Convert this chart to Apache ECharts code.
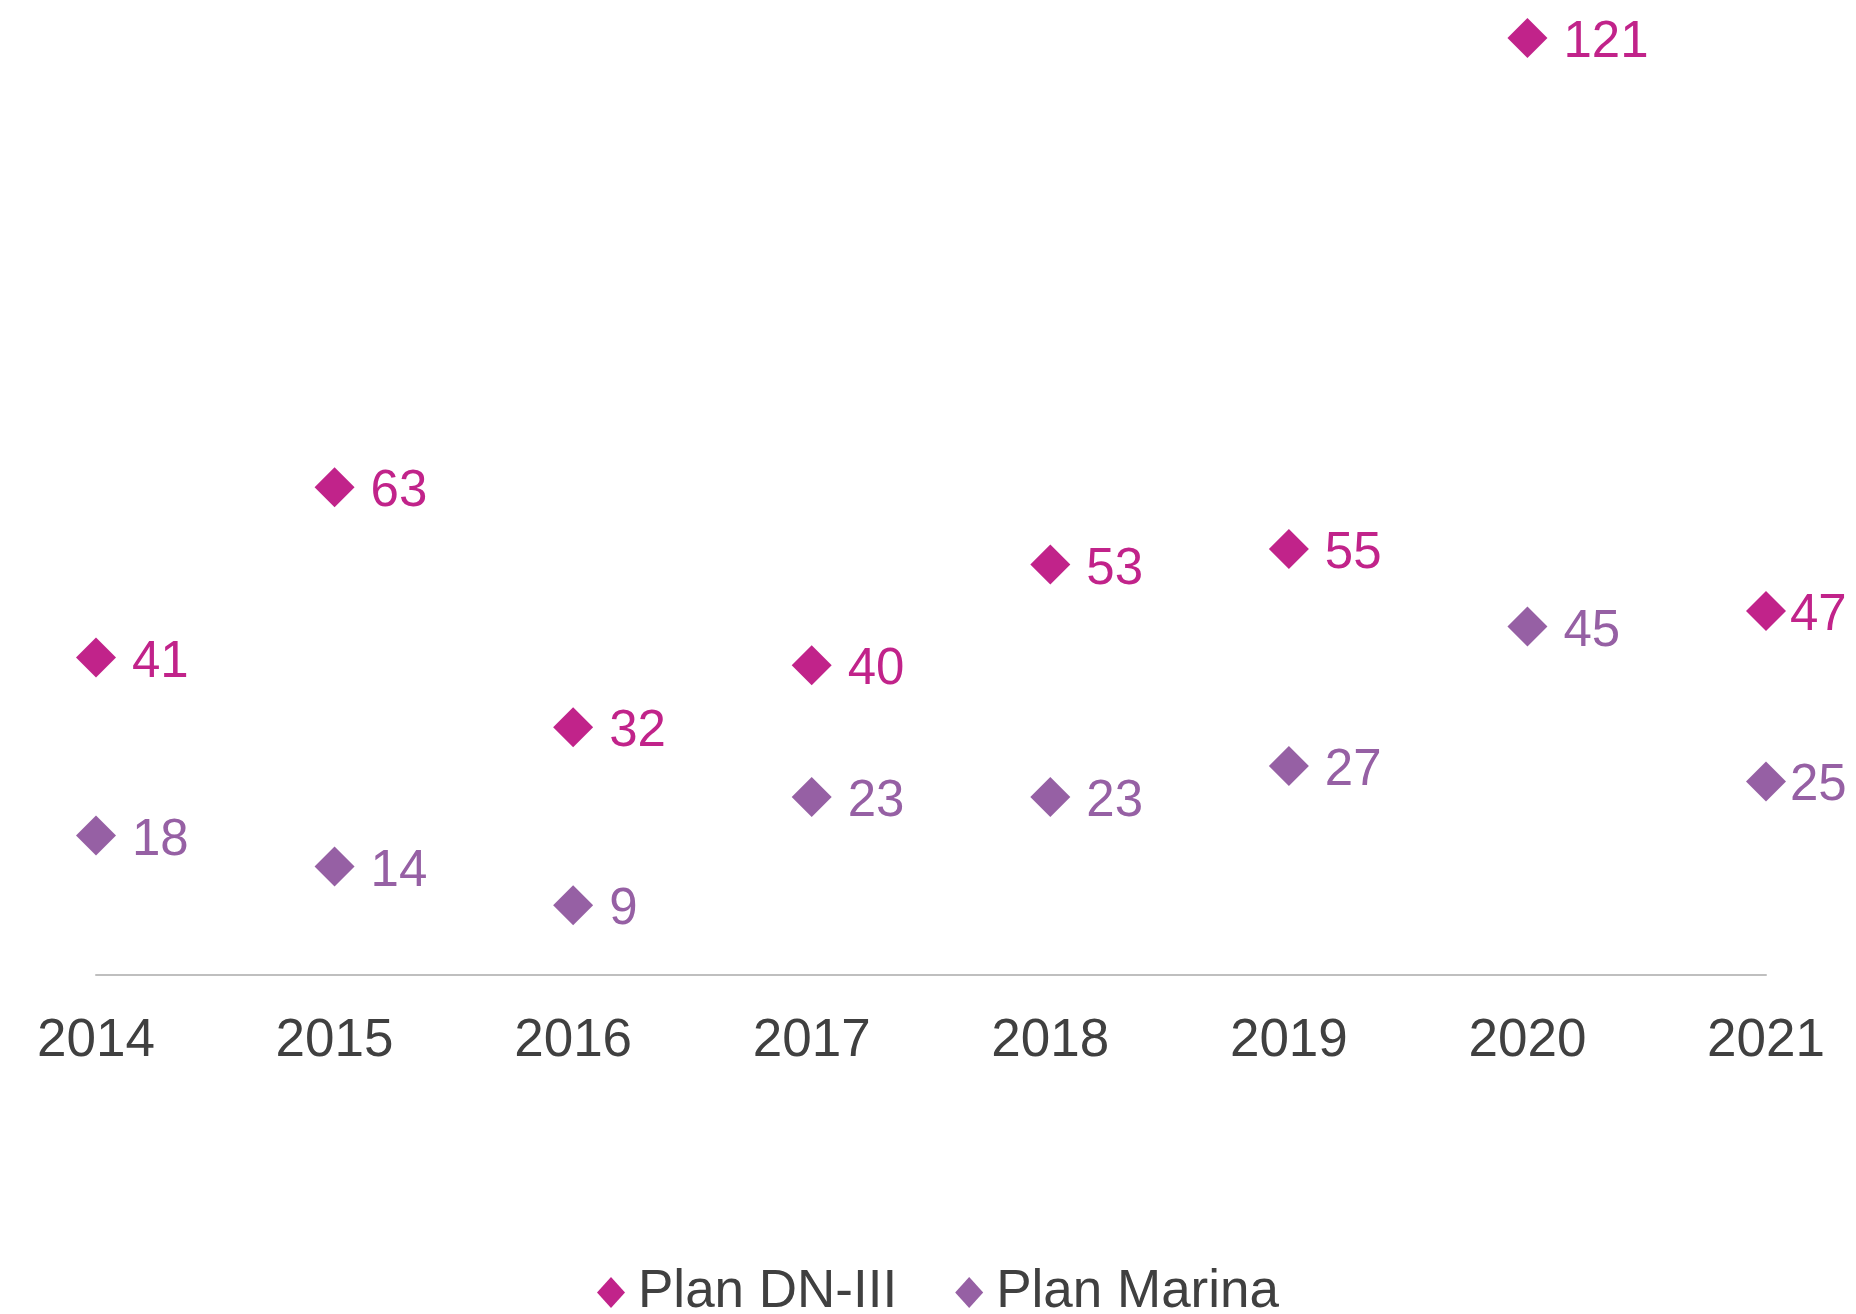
<!DOCTYPE html>
<html>
<head>
<meta charset="utf-8">
<title>Plan DN-III y Plan Marina</title>
<script src="https://cdn.jsdelivr.net/npm/echarts@6/dist/echarts.min.js"></script>
<style>
  html, body { margin: 0; padding: 0; background: #ffffff; }
  #chart { width: 1856px; height: 1314px; }
</style>
</head>
<body>
<div id="chart"></div>
<script>
// Years on the horizontal axis
const years = ['2014', '2015', '2016', '2017', '2018', '2019', '2020', '2021'];
// Series names
const seriesNames = ['Plan DN-III', 'Plan Marina'];
// Values per year
const planDN3 = [41, 63, 32, 40, 53, 55, 121, 47];
const planMarina = [18, 14, 9, 23, 23, 27, 45, 25];

const colorDN3 = '#C1238A';
const colorMarina = '#9660A4';
const textColor = '#404040';
const fontFamily = 'Liberation Sans, Arial, Helvetica, sans-serif';

// Last point sits at the right edge, so its label is pulled in closer
function withLabels(values, lastIndex) {
  return values.map((v, i) => i === lastIndex
    ? { value: v, label: { distance: 4 } }
    : v);
}

function pointLabel(color) {
  return {
    show: true,
    position: 'right',
    distance: 16,
    offset: [0, 5],
    color: color,
    fontSize: 51,
    fontFamily: fontFamily
  };
}

const chart = echarts.init(document.getElementById('chart'), null, { renderer: 'canvas' });

chart.setOption({
  backgroundColor: '#ffffff',
  animation: false,
  grid: { left: 96, right: 90, top: 7, bottom: 339, containLabel: false },
  xAxis: {
    type: 'category',
    data: years,
    boundaryGap: false,
    axisLine: { show: true, lineStyle: { color: '#BFBFBF', width: 2 } },
    axisTick: { show: false },
    axisLabel: {
      color: textColor,
      fontSize: 53,
      fontFamily: fontFamily,
      margin: 40
    },
    splitLine: { show: false }
  },
  yAxis: {
    type: 'value',
    min: 0,
    max: 125,
    show: false,
    splitLine: { show: false }
  },
  legend: {
    data: seriesNames,
    left: 592,
    top: 1261,
    icon: 'diamond',
    itemWidth: 28,
    itemHeight: 31,
    itemGap: 58,
    textStyle: { color: textColor, fontSize: 53, fontFamily: fontFamily, padding: [0, 0, 0, 8] }
  },
  series: [
    {
      name: seriesNames[0],
      type: 'scatter',
      data: withLabels(planDN3, planDN3.length - 1),
      symbol: 'diamond',
      symbolSize: 40,
      clip: false,
      itemStyle: { color: colorDN3, opacity: 1 },
      label: pointLabel(colorDN3)
    },
    {
      name: seriesNames[1],
      type: 'scatter',
      data: withLabels(planMarina, planMarina.length - 1),
      symbol: 'diamond',
      symbolSize: 40,
      clip: false,
      itemStyle: { color: colorMarina, opacity: 1 },
      label: pointLabel(colorMarina)
    }
  ]
});
</script>
</body>
</html>
